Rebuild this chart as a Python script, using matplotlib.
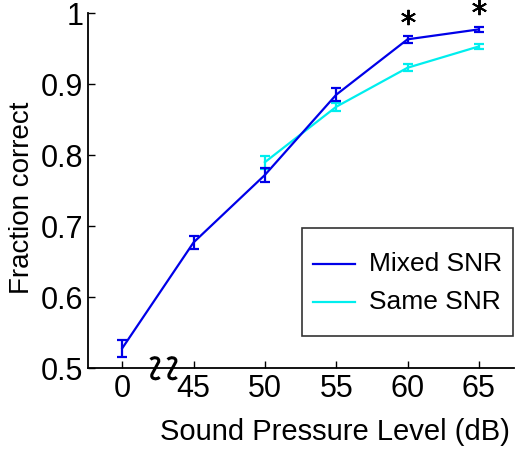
import numpy as np
import matplotlib.pyplot as plt
import matplotlib.transforms as mtransforms
from matplotlib.path import Path
from matplotlib.patches import PathPatch
from matplotlib.lines import Line2D
from matplotlib.legend_handler import HandlerLine2D

plt.rcParams['font.family'] = ['Liberation Sans', 'DejaVu Sans']

# sound levels (dB); 0 is the "no sound" point before the axis break
levels = ['0', '45', '50', '55', '60', '65']

mixed_x = [0, 1, 2, 3, 4, 5]
mixed_y = [0.528, 0.677, 0.772, 0.885, 0.963, 0.977]
mixed_err = [0.012, 0.009, 0.010, 0.009, 0.005, 0.004]

same_x = [2, 3, 4, 5]
same_y = [0.790, 0.868, 0.923, 0.953]
same_err = [0.009, 0.006, 0.005, 0.003]

# levels with a significant difference
sig_x = [4, 5]


class LowLine(HandlerLine2D):
    # legend line dropped a bit so it sits level with the label text
    def create_artists(self, *args, **kwargs):
        arts = super().create_artists(*args, **kwargs)
        for a in arts:
            a.set_ydata(np.asarray(a.get_ydata()) - 6.5)
        return arts


fig = plt.figure(figsize=(5.19, 4.5), dpi=100)
ax = fig.add_axes([0.1696, 0.182, 0.8204, 0.789])

h_same = ax.errorbar(same_x, same_y, yerr=same_err, color='#00eeee', lw=1.6,
                     capsize=3.5, capthick=1.6, elinewidth=1.6)
h_mixed = ax.errorbar(mixed_x, mixed_y, yerr=mixed_err, color='#0000e8', lw=1.6,
                      capsize=3.5, capthick=1.6, elinewidth=1.6)

# asterisks over the significant points
sig_y = [mixed_y[i] + mixed_err[i] + 0.027 for i in sig_x]
ax.plot(sig_x, sig_y, ls='none', marker=(6, 2, 0), ms=11, mew=1.4,
        color='black', clip_on=False)

ax.set_xlim(-0.48, 5.49)
ax.set_ylim(0.5, 1.0)
ax.set_xticks(range(len(levels)))
ax.set_xticklabels(levels)
ax.set_yticks([0.5, 0.6, 0.7, 0.8, 0.9, 1.0])
ax.set_yticklabels(['0.5', '0.6', '0.7', '0.8', '0.9', '1'])
ax.tick_params(direction='in', length=5, width=1, labelsize=22)
ax.tick_params(axis='y', pad=3.5)
ax.tick_params(axis='x', pad=4)

for s in ['top', 'right']:
    ax.spines[s].set_visible(False)
for s in ['left', 'bottom']:
    ax.spines[s].set_linewidth(1.3)

# axis break marks between 0 and 45 (shape in inches, placed on the axis)
verts = [(-0.045, 0.085), (-0.02, 0.115), (0.05, 0.11), (0.035, 0.06),
         (-0.03, -0.06),
         (-0.05, -0.11), (0.02, -0.12), (0.045, -0.09)]
codes = [Path.MOVETO, Path.CURVE4, Path.CURVE4, Path.CURVE4,
         Path.LINETO,
         Path.CURVE4, Path.CURVE4, Path.CURVE4]
zig = Path(verts, codes)
for bx in [0.46, 0.70]:
    tr = fig.dpi_scale_trans + mtransforms.ScaledTranslation(bx, 0.5, ax.transData)
    ax.add_patch(PathPatch(zig, transform=tr, fill=False, lw=2.2,
                           edgecolor='black', clip_on=False, zorder=5))

ax.set_xlabel('Sound Pressure Level (dB)', fontsize=21)
ax.xaxis.label.set_ha('right')
ax.xaxis.set_label_coords(0.99, -0.14)
ax.set_ylabel('Fraction correct', fontsize=20)
ax.yaxis.set_label_coords(-0.125, 0.48)

# tall handle boxes give the roomy legend
leg = ax.legend([h_mixed.lines[0], h_same.lines[0]], ['Mixed SNR', 'Same SNR'],
                loc='lower right', bbox_to_anchor=(0.998, 0.09), borderaxespad=0,
                fontsize=19, frameon=True, fancybox=False, edgecolor='black',
                handlelength=1.6, handletextpad=0.55, borderpad=0.4,
                handleheight=2.5, labelspacing=-0.45,
                handler_map={Line2D: LowLine()})
leg.get_frame().set_linewidth(1.2)

fig.savefig('out.png', dpi=100)
